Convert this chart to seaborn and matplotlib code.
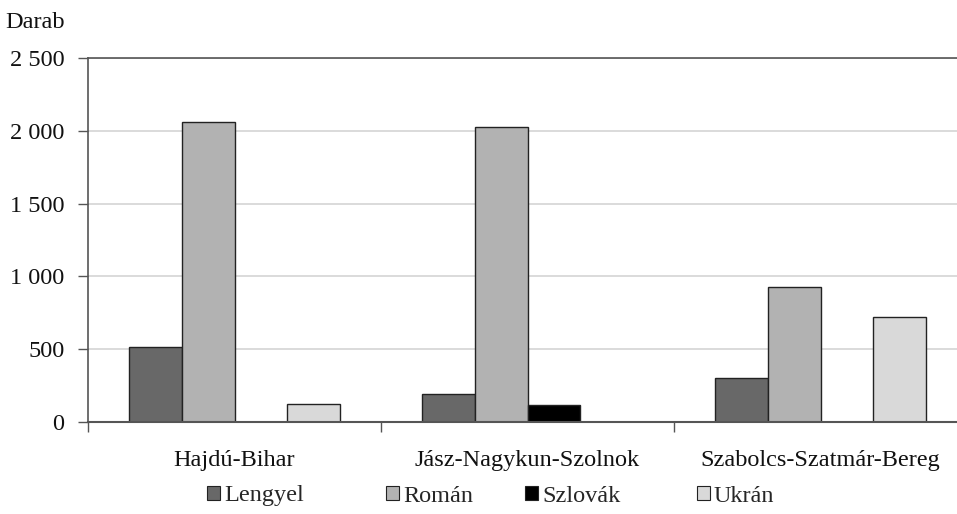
import matplotlib
matplotlib.use("Agg")
import matplotlib.pyplot as plt
import matplotlib.ticker as mticker
from matplotlib.patches import Patch
import seaborn as sns
import pandas as pd
import numpy as np

# Inspected vehicles by county and country of registration
counties = ["Hajdú-Bihar", "Jász-Nagykun-Szolnok", "Szabolcs-Szatmár-Bereg"]
nations = ["Lengyel", "Román", "Szlovák", "Ukrán"]
lengyel = [515, 190, 305]
roman = [2060, 2025, 928]
szlovak = [np.nan, 120, np.nan]
ukran = [125, np.nan, 720]
yticks = [0, 500, 1000, 1500, 2000, 2500]

colors = ["#686868", "#b2b2b2", "#000000", "#d9d9d9"]

rows = []
for name, vals in zip(nations, [lengyel, roman, szlovak, ukran]):
    for c, v in zip(counties, vals):
        rows.append({"megye": c, "nemzet": name, "darab": v})
df = pd.DataFrame(rows)

sns.set_theme(style="white")
plt.rcParams["font.family"] = ["Liberation Serif", "DejaVu Serif"]
FS = 17.5

W, H = 957, 514
fig = plt.figure(figsize=(W / 100, H / 100), dpi=100)
ax = fig.add_axes([88 / W, 1 - 422 / H, 1 - 88 / W, (422 - 58) / H])

sns.barplot(data=df, x="megye", y="darab", hue="nemzet", order=counties,
            hue_order=nations, palette=colors, width=0.717, gap=0,
            edgecolor="#222222", linewidth=1.0, dodge=True, legend=False, ax=ax)

ax.set_xlim(-0.5, -0.5 + (W - 88) / 293)
ax.set_ylim(0, 2500)
ax.set_yticks(yticks)
ax.yaxis.set_major_formatter(mticker.FuncFormatter(lambda v, p: f"{int(v):,}".replace(",", " ")))
ax.yaxis.grid(True, color="#d4d4d4", linewidth=1.2)
ax.set_axisbelow(True)

ax.spines["right"].set_visible(False)
ax.spines["top"].set_color("#555555")
ax.spines["top"].set_linewidth(1.2)
ax.spines["left"].set_color("#555555")
ax.spines["bottom"].set_color("#555555")
ax.spines["left"].set_linewidth(1.2)
ax.spines["bottom"].set_linewidth(1.5)

ax.tick_params(axis="y", which="major", left=True, length=7, width=1, color="#555555",
               labelsize=FS, pad=10, labelcolor="#111111")
ax.set_xticks([0, 1, 2])
ax.set_xticklabels(counties)
ax.tick_params(axis="x", which="major", length=0, labelsize=FS, pad=20, labelcolor="#111111")
ax.set_xticks([-0.5, 0.5, 1.5], minor=True)
ax.tick_params(axis="x", which="minor", bottom=True, length=7, width=1, color="#555555")
ax.set_xlabel("")
ax.set_ylabel("")

fig.text(5 / W, 1 - 23 / H, "Darab", fontsize=FS, va="center", ha="left", color="#111111")

# Legend entries laid out along the bottom edge
legend_x = [207, 386, 525, 697]
for c, n, lx in zip(colors, nations, legend_x):
    h = Patch(facecolor=c, edgecolor="#222222", linewidth=0.8, label=n)
    fig.legend(handles=[h], loc="center left", bbox_to_anchor=(lx / W, 1 - 496 / H),
               frameon=False, fontsize=FS, handlelength=0.55, handleheight=0.55,
               handletextpad=0.15, borderpad=0, borderaxespad=0)

fig.savefig("out.png", dpi=100)
